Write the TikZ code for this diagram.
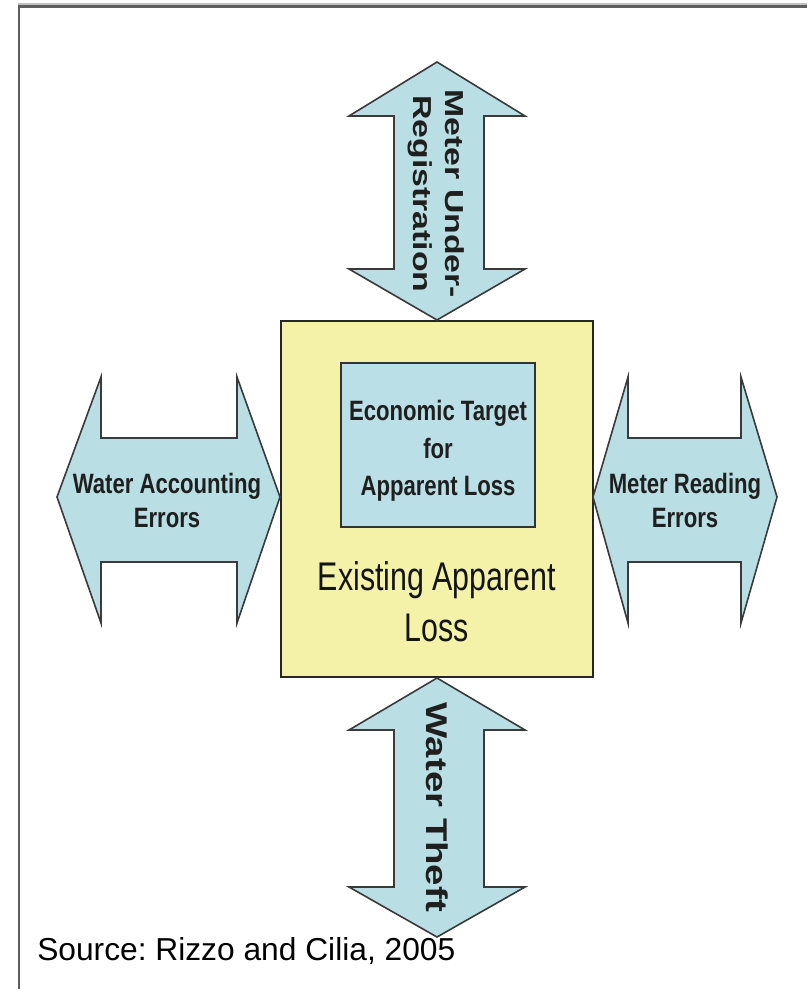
\documentclass[tikz,border=0pt]{standalone}
\usepackage{fontspec}
\setmainfont{Liberation Sans}
\newfontfamily\narrowbold[FakeStretch=0.79]{Liberation Sans}
\newfontfamily\narrowreg[FakeStretch=0.76]{Liberation Sans}
\newfontfamily\widebold[FakeStretch=1.30]{Liberation Sans}
\newfontfamily\widerbold[FakeStretch=1.28]{Liberation Sans}
\definecolor{arrowblue}{HTML}{B9DEE4}
\definecolor{boxblue}{HTML}{BADFE6}
\definecolor{paleyellow}{HTML}{F4F1A8}
\definecolor{edgegray}{HTML}{3A3A3A}
\definecolor{framegray}{HTML}{5E5E5E}
\frenchspacing
\begin{document}
\begin{tikzpicture}[x=0.75pt,y=-0.75pt,
  blockarrow/.style={fill=arrowblue,draw=edgegray,line width=1.2pt,line join=miter},
  lossbox/.style={draw=black!85,fill=paleyellow,line width=1.5pt,minimum width=312*0.75pt,minimum height=356*0.75pt,inner sep=0pt},
  targetbox/.style={draw=black!80,fill=boxblue,line width=2pt,minimum width=194*0.75pt,minimum height=164*0.75pt,inner sep=0pt},
  hlabel/.style={align=center,font=\narrowbold\bfseries\fontsize{21}{25.5}\selectfont,text=black!88,inner sep=0pt},
  vlabel/.style={align=center,rotate=-90,font=\widebold\bfseries\fontsize{19.5}{24}\selectfont,text=black!88,inner sep=0pt}
]
\useasboundingbox (0,0) rectangle (807,989);
\fill[white] (0,0) rectangle (807,989);
% frame
\fill[black!25] (18,2.5) rectangle (807,5);
\draw[framegray,line width=2.2pt] (17.5,6.5) -- (807,6.5);
\draw[framegray,line width=2.2pt] (19,5) -- (19,989);

% central boxes
\node[lossbox] (loss) at (437,499) {};
\node[targetbox] (target) at (438,445) {};

% top arrow
\draw[blockarrow] (437,62) -- (525,116) -- (484,116) -- (484,269) -- (525,269) -- (437,320)
  -- (349,269) -- (394,269) -- (394,116) -- (349,116) -- cycle;
% bottom arrow
\draw[blockarrow] (437,678) -- (525,730) -- (484,730) -- (484,887) -- (525,887) -- (437,937)
  -- (349,887) -- (394,887) -- (394,730) -- (349,730) -- cycle;
% left arrow
\draw[blockarrow] (57,497) -- (101,377) -- (101,438) -- (237,438) -- (237,377) -- (280,497)
  -- (237,623) -- (237,562) -- (101,562) -- (101,623) -- cycle;
% right arrow
\draw[blockarrow] (593,497) -- (628,377) -- (628,438) -- (741,438) -- (741,377) -- (777,497)
  -- (741,623) -- (741,562) -- (628,562) -- (628,623) -- cycle;

% labels
\node[vlabel] (under) at (436,194) {Meter Under-\\Registration};
\node[vlabel,font=\widerbold\bfseries\fontsize{22.5}{26}\selectfont] (theft) at (437,807) {Water Theft};
\node[hlabel] (accounting) at (167,500) {Water Accounting\\Errors};
\node[hlabel] (reading) at (685,500) {Meter Reading\\Errors};
\node[hlabel,font=\narrowbold\bfseries\fontsize{21}{28}\selectfont] (targettext) at (438,451) {Economic Target\\for\\Apparent Loss};
\node[align=center,inner sep=0pt,font=\narrowreg\fontsize{30}{38}\selectfont,text=black!92] (existing) at (437,602) {Existing Apparent\\Loss};
\node[anchor=base west,inner sep=0pt,font=\fontsize{23.8}{28}\selectfont] (source) at (37,960) {Source: Rizzo and Cilia, 2005};
\end{tikzpicture}
\end{document}
